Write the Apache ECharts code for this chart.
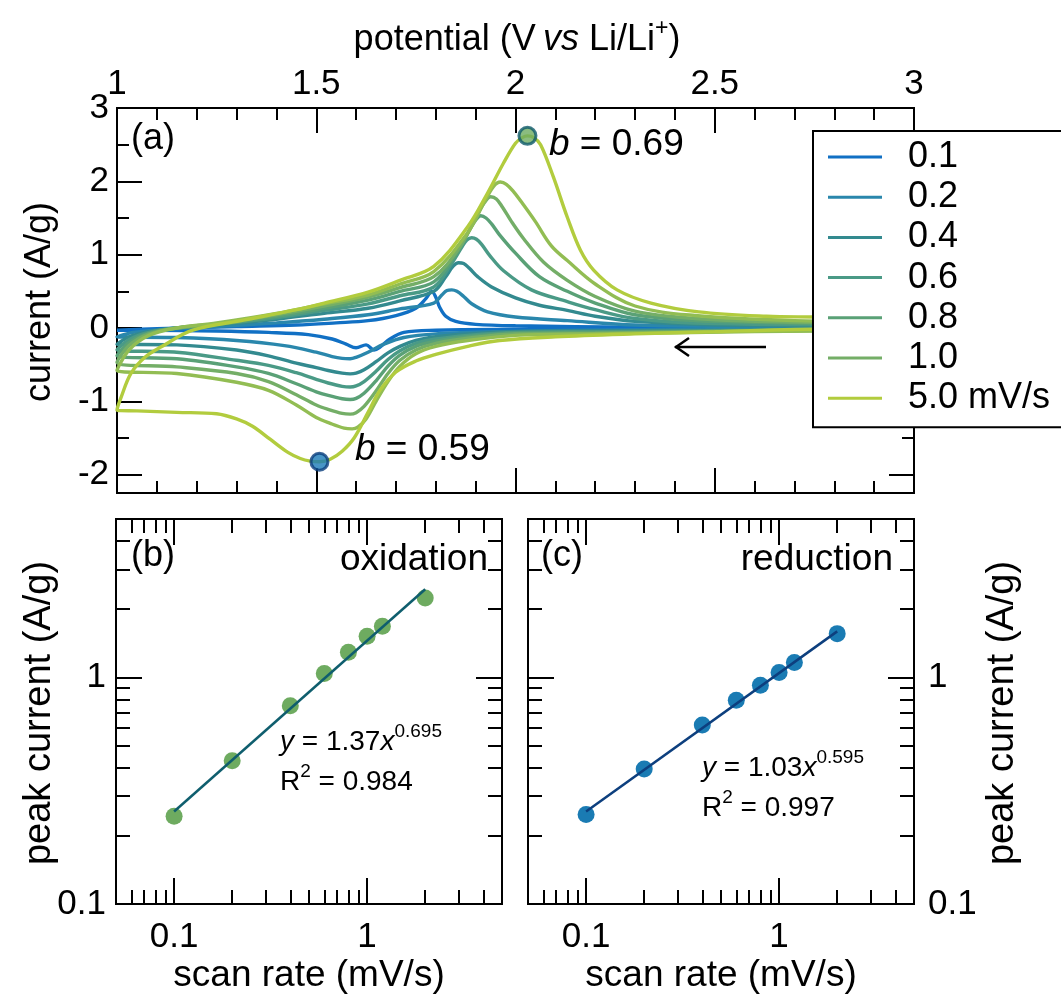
<!DOCTYPE html>
<html><head><meta charset="utf-8">
<script src="https://cdn.jsdelivr.net/npm/echarts@6/dist/echarts.min.js"></script>
<style>html,body{margin:0;padding:0;background:#fff}#c{width:1061px;height:994px}</style>
</head><body><div id="c"></div>
<script>
const FONT = '"Liberation Sans", Arial, Helvetica, sans-serif';

// ---------- Panel (a): cyclic voltammograms, [potential V, current A/g] ----------
const cv01 = [[3.0,-0.01],[2.6,-0.01],[2.2,-0.02],[1.95,-0.02],[1.8,-0.03],[1.72,-0.06],[1.685,-0.15],[1.66,-0.26],[1.645,-0.3],[1.625,-0.23],[1.6,-0.27],[1.575,-0.22],[1.54,-0.15],[1.48,-0.09],[1.38,-0.06],[1.25,-0.04],[1.1,-0.03],[1.0,-0.03],
  [1.1,-0.01],[1.3,0.02],[1.45,0.04],[1.55,0.07],[1.63,0.1],[1.7,0.17],[1.75,0.27],[1.775,0.4],[1.79,0.5],[1.8,0.42],[1.81,0.28],[1.825,0.16],[1.85,0.09],[1.9,0.05],[2.0,0.03],[2.3,0.01],[3.0,0.0]];
const cv02 = [[3.0,-0.01],[2.6,-0.02],[2.2,-0.03],[1.95,-0.05],[1.8,-0.08],[1.72,-0.13],[1.67,-0.22],[1.63,-0.33],[1.6,-0.4],[1.585,-0.42],[1.565,-0.415],[1.54,-0.39],[1.5,-0.33],[1.42,-0.24],[1.3,-0.17],[1.15,-0.13],[1.0,-0.12],
  [1.04,-0.06],[1.12,-0.02],[1.25,0.02],[1.4,0.07],[1.52,0.12],[1.63,0.18],[1.71,0.26],[1.795,0.34],[1.815,0.45],[1.828,0.51],[1.84,0.52],[1.853,0.5],[1.87,0.43],[1.89,0.33],[1.93,0.22],[2.0,0.15],[2.13,0.1],[2.3,0.04],[2.6,0.02],[3.0,0.01]];
const cv04 = [[3.0,-0.02],[2.6,-0.03],[2.2,-0.04],[2.0,-0.05],[1.88,-0.08],[1.8,-0.12],[1.75,-0.17],[1.71,-0.25],[1.68,-0.34],[1.65,-0.46],[1.62,-0.57],[1.6,-0.615],[1.585,-0.625],[1.565,-0.615],[1.53,-0.58],[1.5,-0.54],[1.45,-0.48],[1.38,-0.38],[1.3,-0.3],[1.15,-0.23],[1.0,-0.22],
  [1.03,-0.12],[1.08,-0.05],[1.15,0.0],[1.25,0.04],[1.4,0.12],[1.52,0.2],[1.63,0.27],[1.71,0.37],[1.795,0.5],[1.825,0.7],[1.843,0.84],[1.857,0.89],[1.87,0.88],[1.885,0.81],[1.905,0.7],[1.94,0.56],[2.0,0.41],[2.06,0.31],[2.13,0.24],[2.2,0.16],[2.3,0.09],[2.5,0.04],[3.0,0.02]];
const cv06 = [[3.0,-0.02],[2.6,-0.03],[2.2,-0.05],[2.0,-0.06],[1.88,-0.1],[1.8,-0.15],[1.75,-0.21],[1.71,-0.31],[1.68,-0.43],[1.65,-0.59],[1.62,-0.73],[1.6,-0.79],[1.585,-0.805],[1.565,-0.795],[1.53,-0.75],[1.5,-0.7],[1.45,-0.61],[1.38,-0.51],[1.3,-0.44],[1.15,-0.33],[1.0,-0.3],
  [1.03,-0.16],[1.08,-0.06],[1.15,0.0],[1.25,0.05],[1.4,0.14],[1.52,0.24],[1.63,0.33],[1.71,0.44],[1.795,0.56],[1.84,0.88],[1.865,1.1],[1.878,1.2],[1.89,1.23],[1.902,1.21],[1.915,1.14],[1.935,0.99],[1.97,0.78],[2.04,0.52],[2.13,0.36],[2.2,0.25],[2.3,0.13],[2.5,0.06],[3.0,0.04]];
const cv08 = [[3.0,-0.02],[2.6,-0.04],[2.2,-0.06],[2.0,-0.07],[1.88,-0.12],[1.8,-0.18],[1.75,-0.25],[1.71,-0.37],[1.68,-0.52],[1.65,-0.72],[1.62,-0.89],[1.6,-0.96],[1.585,-0.975],[1.565,-0.965],[1.53,-0.92],[1.5,-0.87],[1.45,-0.76],[1.38,-0.62],[1.3,-0.53],[1.15,-0.42],[1.0,-0.38],
  [1.03,-0.2],[1.08,-0.07],[1.15,0.0],[1.25,0.05],[1.4,0.16],[1.52,0.27],[1.63,0.38],[1.71,0.5],[1.795,0.63],[1.85,1.0],[1.885,1.34],[1.9,1.47],[1.913,1.53],[1.926,1.5],[1.94,1.42],[1.96,1.27],[2.0,1.02],[2.06,0.7],[2.13,0.5],[2.2,0.34],[2.3,0.18],[2.5,0.09],[3.0,0.05]];
const cv10 = [[3.0,-0.03],[2.6,-0.04],[2.2,-0.07],[2.0,-0.08],[1.88,-0.14],[1.8,-0.21],[1.75,-0.3],[1.71,-0.44],[1.68,-0.62],[1.65,-0.86],[1.62,-1.07],[1.6,-1.155],[1.585,-1.175],[1.565,-1.165],[1.53,-1.11],[1.5,-1.05],[1.45,-0.91],[1.38,-0.73],[1.3,-0.62],[1.15,-0.53],[1.0,-0.47],
  [1.03,-0.24],[1.08,-0.08],[1.15,0.0],[1.25,0.06],[1.4,0.18],[1.52,0.3],[1.63,0.42],[1.71,0.55],[1.795,0.7],[1.86,1.1],[1.9,1.5],[1.922,1.71],[1.938,1.79],[1.952,1.76],[1.967,1.65],[1.99,1.45],[2.02,1.22],[2.07,0.9],[2.13,0.65],[2.2,0.43],[2.3,0.23],[2.45,0.13],[2.7,0.08],[3.0,0.06]];
const cv12 = [[3.0,-0.03],[2.6,-0.05],[2.2,-0.08],[2.0,-0.1],[1.88,-0.17],[1.8,-0.25],[1.75,-0.35],[1.71,-0.52],[1.68,-0.73],[1.65,-1.0],[1.625,-1.24],[1.605,-1.35],[1.59,-1.375],[1.57,-1.365],[1.535,-1.3],[1.5,-1.22],[1.45,-1.05],[1.38,-0.85],[1.3,-0.74],[1.15,-0.62],[1.0,-0.58],
  [1.03,-0.3],[1.08,-0.1],[1.15,0.0],[1.25,0.07],[1.4,0.2],[1.52,0.33],[1.63,0.45],[1.71,0.6],[1.795,0.77],[1.88,1.3],[1.92,1.7],[1.945,1.93],[1.962,1.99],[1.977,1.96],[1.995,1.86],[2.02,1.68],[2.05,1.45],[2.09,1.12],[2.13,0.92],[2.2,0.6],[2.3,0.3],[2.45,0.17],[2.7,0.1],[3.0,0.08]];
const cv50 = [[3.0,0.0],[2.7,-0.02],[2.5,-0.05],[2.3,-0.08],[2.1,-0.12],[1.96,-0.17],[1.88,-0.25],[1.8,-0.36],[1.75,-0.45],[1.7,-0.6],[1.66,-0.85],[1.63,-1.15],[1.595,-1.5],[1.565,-1.68],[1.535,-1.79],[1.508,-1.824],[1.485,-1.815],[1.46,-1.78],[1.43,-1.7],[1.385,-1.52],[1.34,-1.34],[1.3,-1.24],[1.25,-1.17],[1.15,-1.15],[1.05,-1.13],[1.0,-1.12],
  [1.01,-0.95],[1.035,-0.62],[1.07,-0.4],[1.11,-0.26],[1.19,-0.03],[1.32,0.11],[1.45,0.25],[1.52,0.34],[1.63,0.49],[1.71,0.65],[1.795,0.84],[1.88,1.38],[1.93,1.84],[1.97,2.25],[2.0,2.52],[2.018,2.6],[2.03,2.62],[2.045,2.6],[2.063,2.5],[2.095,2.06],[2.13,1.51],[2.163,1.06],[2.196,0.79],[2.255,0.52],[2.34,0.34],[2.46,0.22],[2.63,0.16],[2.75,0.15],[3.0,0.13]];
const cvCurves = [cv01, cv02, cv04, cv06, cv08, cv10, cv12, cv50];
const cvNames  = ['0.1','0.2','0.4','0.6','0.8','1.0','1.2','5.0 mV/s'];
const cvColors = ['#1170c4','#2a87ac','#338a8f','#4a9a86','#5aa176','#74ae67','#92bd53','#b2cc3e'];
const legendNames = ['0.1','0.2','0.4','0.6','0.8','1.0','5.0 mV/s'];
const peakOx  = [2.03, 2.62];
const peakRed = [1.508, -1.824];

// ---------- Panels (b) and (c): peak current vs scan rate ----------
const scanRate = [0.1, 0.2, 0.4, 0.6, 0.8, 1.0, 1.2, 2.0];
const oxPeakCurrent  = [0.244, 0.429, 0.75, 1.04, 1.29, 1.52, 1.68, 2.24];
const redPeakCurrent = [0.248, 0.394, 0.616, 0.792, 0.923, 1.052, 1.164, 1.56];
const oxFitX = [0.1, 2.0],  oxFitY = [0.256, 2.45];
const redFitX = [0.1, 2.0], redFitY = [0.256, 1.596];

// ---------- Ticks ----------
const aYMajor = [-2, -1, 0, 1, 2, 3];
const aYMinor = [-1.5, -0.5, 0.5, 1.5, 2.5];
const logMajor = [0.1, 1];
const logXMinor = [0.06, 0.07, 0.08, 0.09, 0.2, 0.3, 0.4, 0.5, 0.6, 0.7, 0.8, 0.9, 2, 3, 4];
const logYMinor = [0.2, 0.3, 0.4, 0.5, 0.6, 0.7, 0.8, 0.9, 2, 3, 4];

const BLACK = '#000';
const TICKFS = 35;
const line2 = {show: true, onZero: false, lineStyle: {color: BLACK, width: 2}};
function lbl(show, margin, extra) {
  return Object.assign({show: show, margin: margin, color: BLACK, fontSize: TICKFS, fontFamily: FONT}, extra || {});
}
function customAxis(type, grid, pos, min, max, ticks, len, labels, margin, fmt) {
  const ax = {
    type: type, gridIndex: grid, position: pos, min: min, max: max,
    axisLine: line2,
    axisTick: {show: true, inside: true, length: len, customValues: ticks, lineStyle: {color: BLACK, width: 2}},
    axisLabel: labels ? lbl(true, margin, {customValues: labels, formatter: fmt}) : {show: false},
    splitLine: {show: false}, minorTick: {show: false}, minorSplitLine: {show: false}
  };
  if (type === 'log') ax.logBase = 10;
  return ax;
}
const logFmt = v => String(Math.round(v * 1000) / 1000);

const xAxes = [
  {type: 'value', gridIndex: 0, position: 'top', min: 1, max: 3, interval: 0.5,
   axisLine: line2, axisTick: {show: true, inside: true, length: 25, lineStyle: {color: BLACK, width: 2}},
   minorTick: {show: true, splitNumber: 5, length: 12, lineStyle: {color: BLACK, width: 2}},
   axisLabel: lbl(true, 6), splitLine: {show: false}, minorSplitLine: {show: false}},
  {type: 'value', gridIndex: 0, position: 'bottom', min: 1, max: 3, interval: 0.5,
   axisLine: line2, axisTick: {show: true, inside: true, length: 25, lineStyle: {color: BLACK, width: 2}},
   minorTick: {show: true, splitNumber: 5, length: 12, lineStyle: {color: BLACK, width: 2}},
   axisLabel: {show: false}, splitLine: {show: false}, minorSplitLine: {show: false}},
  customAxis('log', 1, 'bottom', 0.05, 5, logMajor, 26, logMajor, 16, logFmt),
  customAxis('log', 1, 'bottom', 0.05, 5, logXMinor, 14, null),
  customAxis('log', 1, 'top', 0.05, 5, logMajor, 26, null),
  customAxis('log', 1, 'top', 0.05, 5, logXMinor, 14, null),
  customAxis('log', 2, 'bottom', 0.05, 5, logMajor, 26, logMajor, 16, logFmt),
  customAxis('log', 2, 'bottom', 0.05, 5, logXMinor, 14, null),
  customAxis('log', 2, 'top', 0.05, 5, logMajor, 26, null),
  customAxis('log', 2, 'top', 0.05, 5, logXMinor, 14, null)
];
const yAxes = [
  customAxis('value', 0, 'left', -2.25, 3, aYMajor, 25, aYMajor, 8),
  customAxis('value', 0, 'left', -2.25, 3, aYMinor, 12, null),
  customAxis('value', 0, 'right', -2.25, 3, aYMajor, 25, null),
  customAxis('value', 0, 'right', -2.25, 3, aYMinor, 12, null),
  customAxis('log', 1, 'left', 0.1, 5, logMajor, 26, logMajor, 10, logFmt),
  customAxis('log', 1, 'left', 0.1, 5, logYMinor, 14, null),
  customAxis('log', 1, 'right', 0.1, 5, logMajor, 26, null),
  customAxis('log', 1, 'right', 0.1, 5, logYMinor, 14, null),
  customAxis('log', 2, 'left', 0.1, 5, logMajor, 26, null),
  customAxis('log', 2, 'left', 0.1, 5, logYMinor, 14, null),
  customAxis('log', 2, 'right', 0.1, 5, logMajor, 26, logMajor, 14, logFmt),
  customAxis('log', 2, 'right', 0.1, 5, logYMinor, 14, null)
];

const series = [];
cvCurves.forEach((d, i) => {
  series.push({type: 'line', name: cvNames[i], xAxisIndex: 0, yAxisIndex: 0, data: d,
    smooth: 0.35, showSymbol: false, symbol: 'none', clip: true,
    lineStyle: {color: cvColors[i], width: 3.4}, itemStyle: {color: cvColors[i]}});
});
series.push({type: 'scatter', xAxisIndex: 0, yAxisIndex: 0, data: [peakOx], symbolSize: 17, z: 5,
  itemStyle: {color: '#6eab60', borderColor: '#0f5a6a', borderWidth: 3}});
series.push({type: 'scatter', xAxisIndex: 0, yAxisIndex: 0, data: [peakRed], symbolSize: 17, z: 5,
  itemStyle: {color: '#1a7ab8', borderColor: '#0b3f7d', borderWidth: 3}});
// (b)
series.push({type: 'scatter', xAxisIndex: 2, yAxisIndex: 4, symbolSize: 17,
  data: scanRate.map((x, i) => [x, oxPeakCurrent[i]]), itemStyle: {color: '#6eab60', opacity: 1}});
series.push({type: 'line', xAxisIndex: 2, yAxisIndex: 4, showSymbol: false, symbol: 'none',
  data: oxFitX.map((x, i) => [x, oxFitY[i]]), lineStyle: {color: '#0f5e6e', width: 2.5}});
// (c)
series.push({type: 'scatter', xAxisIndex: 6, yAxisIndex: 10, symbolSize: 17,
  data: scanRate.map((x, i) => [x, redPeakCurrent[i]]), itemStyle: {color: '#1a7bb3', opacity: 1}});
series.push({type: 'line', xAxisIndex: 6, yAxisIndex: 10, showSymbol: false, symbol: 'none',
  data: redFitX.map((x, i) => [x, redFitY[i]]), lineStyle: {color: '#0d3f7e', width: 2.5}});

const eqRich = {
  n: {fontSize: 28, fontFamily: FONT, color: BLACK, lineHeight: 40},
  i: {fontSize: 28, fontFamily: FONT, color: BLACK, lineHeight: 40, fontStyle: 'italic'},
  s: {fontSize: 19, fontFamily: FONT, color: BLACK, lineHeight: 19, verticalAlign: 'top'}
};
function txt(x, y, text, align, size, extra) {
  return Object.assign({type: 'text', x: x, y: y, z: 100,
    style: {text: text, font: (size || 36) + 'px ' + FONT, fill: BLACK, align: align || 'left', verticalAlign: 'middle'}
  }, extra || {});
}
function richTxt(x, y, text, rich, align) {
  return {type: 'text', x: x, y: y, z: 100,
    style: {text: text, rich: rich, align: align || 'left', verticalAlign: 'middle', fill: BLACK, font: '36px ' + FONT}};
}
const titleRich = {
  n: {fontSize: 36, fontFamily: FONT, color: BLACK, lineHeight: 46},
  i: {fontSize: 36, fontFamily: FONT, color: BLACK, lineHeight: 46, fontStyle: 'italic'},
  s: {fontSize: 23, fontFamily: FONT, color: BLACK, lineHeight: 23, verticalAlign: 'top'}
};
const bRich = {
  i: {fontSize: 37, fontFamily: FONT, color: BLACK, fontStyle: 'italic'},
  n: {fontSize: 37, fontFamily: FONT, color: BLACK}
};

const graphic = [
  richTxt(517, 40, '{n|potential (V\u2009}{i|vs}{n| Li/Li}{s|+}{n|)}', titleRich, 'center'),
  txt(40, 302, 'current (A/g)', 'center', 36, {rotation: Math.PI / 2}),
  txt(131, 139, '(a)', 'left', 36),
  richTxt(549, 145, '{i|b}{n| = 0.69}', bRich, 'left'),
  richTxt(355, 450, '{i|b}{n| = 0.59}', bRich, 'left'),
  {type: 'group', z: 100, children: [
    {type: 'line', shape: {x1: 675, y1: 347, x2: 766, y2: 347}, style: {stroke: BLACK, lineWidth: 2.5}},
    {type: 'polyline', shape: {points: [[689, 338], [676, 347], [689, 356]]}, style: {stroke: BLACK, lineWidth: 2.5, fill: null}}
  ]},
  txt(40, 713, 'peak current (A/g)', 'center', 38, {rotation: Math.PI / 2}),
  txt(1003, 713, 'peak current (A/g)', 'center', 38, {rotation: Math.PI / 2}),
  txt(309, 976, 'scan rate (mV/s)', 'center', 37),
  txt(721, 976, 'scan rate (mV/s)', 'center', 37),
  txt(131, 556, '(b)', 'left', 36),
  txt(488, 560, 'oxidation', 'right', 37),
  txt(541, 556, '(c)', 'left', 36),
  txt(893, 560, 'reduction', 'right', 37),
  richTxt(280, 742, '{i|y}{n| = 1.37}{i|x}{s|0.695}', eqRich, 'left'),
  richTxt(280, 782, '{n|R}{s|2}{n| = 0.984}', eqRich, 'left'),
  richTxt(702, 768, '{i|y}{n| = 1.03}{i|x}{s|0.595}', eqRich, 'left'),
  richTxt(702, 808, '{n|R}{s|2}{n| = 0.997}', eqRich, 'left')
];

const option = {
  animation: false,
  backgroundColor: '#fff',
  textStyle: {fontFamily: FONT},
  grid: [
    {left: 117, top: 108, width: 797, height: 385},
    {left: 116, top: 519, width: 386, height: 385},
    {left: 528, top: 519, width: 386, height: 385}
  ],
  xAxis: xAxes,
  yAxis: yAxes,
  legend: {
    data: legendNames, orient: 'vertical', left: 813, top: 131,
    itemWidth: 54, itemHeight: 3, itemGap: 4.2, icon: 'rect',
    padding: [8, 30, 11, 15], borderColor: BLACK, borderWidth: 2, backgroundColor: '#fff',
    textStyle: {fontSize: 36, fontFamily: FONT, color: BLACK, lineHeight: 34, padding: [0, 0, 0, 21]},
    selectedMode: false, z: 50
  },
  series: series,
  graphic: graphic
};
const chart = echarts.init(document.getElementById('c'), null, {renderer: 'canvas'});
chart.setOption(option);
</script></body></html>
